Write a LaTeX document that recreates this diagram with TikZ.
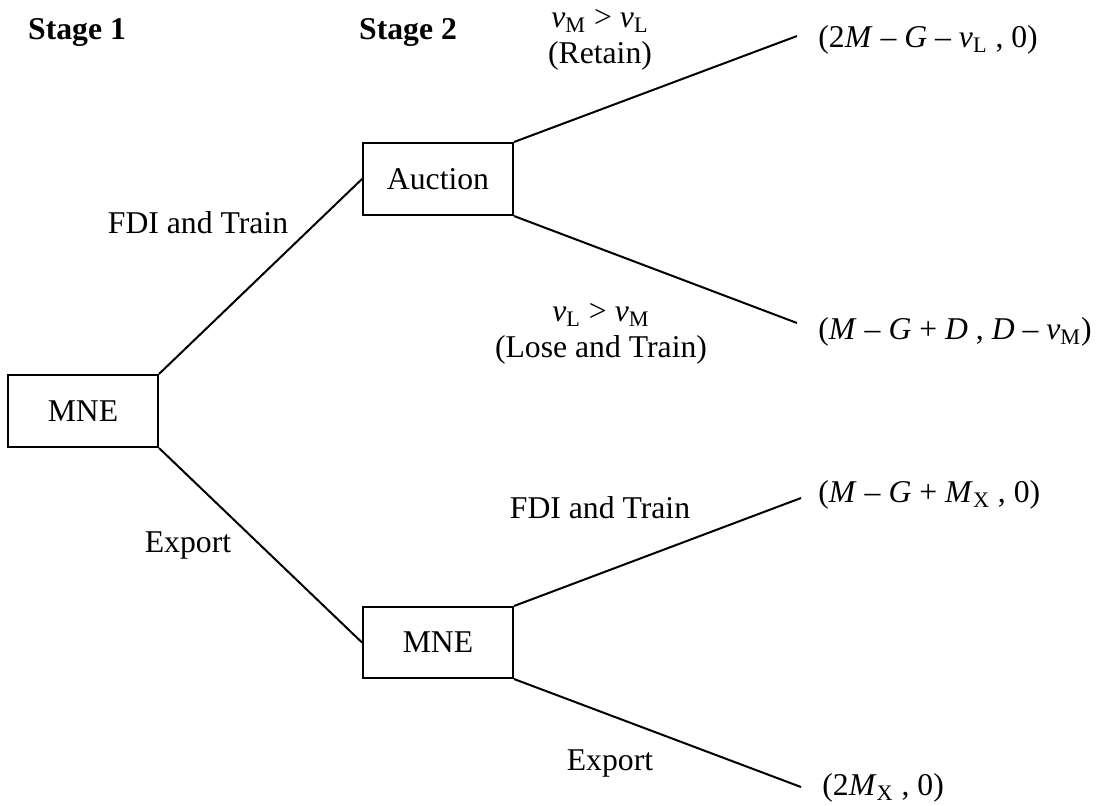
\documentclass[tikz,border=0pt]{standalone}
\usepackage{fontspec}
\setmainfont{Liberation Serif}
\begin{document}
\begin{tikzpicture}[x=0.5pt,y=-0.5pt,
  every node/.style={font=\fontsize{15.85pt}{18pt}\selectfont, inner sep=0pt},
  box/.style={draw, line width=1pt, minimum width=75pt, minimum height=36pt},
  edge/.style={line width=1pt},
  lbl/.style={align=center},
  pay/.style={anchor=west}]
\useasboundingbox (0,0) rectangle (1099,805);
% headings
\node[font=\fontsize{15.85pt}{18pt}\selectfont\bfseries] (s1) at (77,32) {Stage 1};
\node[font=\fontsize{15.85pt}{18pt}\selectfont\bfseries] (s2) at (408,32) {Stage 2};
% boxes
\node[box] (m1) at (83,411) {MNE};
\node[box] (auc) at (438,179) {Auction};
\node[box, minimum height=35.5pt] (m2) at (438,642.5) {MNE};
% ends
\coordinate (c1) at (797,36);
\coordinate (c2) at (797,323);
\coordinate (c3) at (801,498);
\coordinate (c4) at (801,787);
% edges
\draw[edge] (m1.north east) -- (auc.west);
\draw[edge] (m1.south east) -- (m2.west);
\draw[edge] (auc.north east) -- (c1);
\draw[edge] (auc.south east) -- (c2);
\draw[edge] (m2.north east) -- (c3);
\draw[edge] (m2.south east) -- (c4);
% labels
\node[lbl] (l1) at (600,40) {\textit{v}\textsubscript{M} > \textit{v}\textsubscript{L}\\(Retain)};
\node[lbl] (l2) at (601,334) {\textit{v}\textsubscript{L} > \textit{v}\textsubscript{M}\\(Lose and Train)};
\node (l3) at (198,223) {FDI and Train};
\node (l4) at (188,545) {Export};
\node (l5) at (600,508) {FDI and Train};
\node (l6) at (610,763) {Export};
% payoffs
\node[pay] (p1) at (818,40) {(2\textit{M} – \textit{G} – \textit{v}\textsubscript{L} , 0)};
\node[pay] (p2) at (818,332) {(\textit{M} – \textit{G} + \textit{D} , \textit{D} – \textit{v}\textsubscript{M})};
\node[pay] (p3) at (818,495) {(\textit{M} – \textit{G} + \textit{M}\textsubscript{X} , 0)};
\node[pay] (p4) at (822,788) {(2\textit{M}\textsubscript{X} , 0)};
\end{tikzpicture}
\end{document}
